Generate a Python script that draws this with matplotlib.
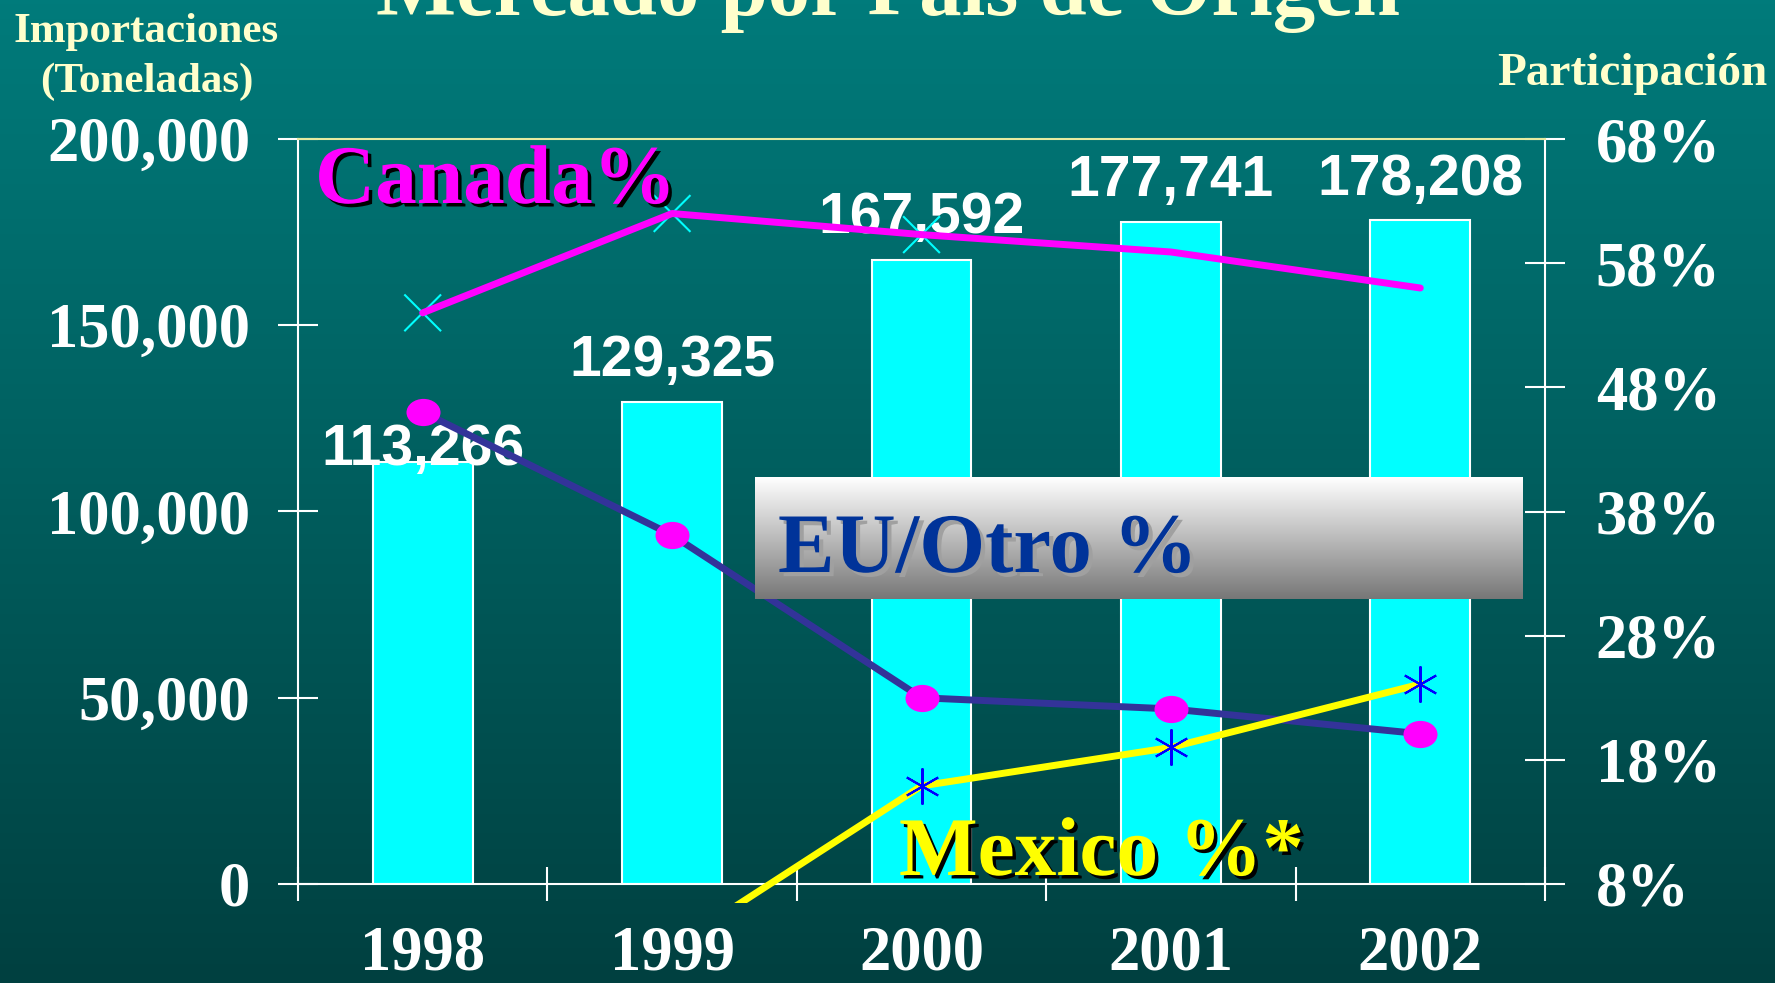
import matplotlib
matplotlib.use('Agg')
import numpy as np
import matplotlib.pyplot as plt
from matplotlib.patches import Rectangle
from matplotlib.path import Path
import matplotlib.patheffects as pe

# ---------------- data ----------------
years = ['1998', '1999', '2000', '2001', '2002']
imports = [113266, 129325, 167592, 177741, 178208]
canada_pct = [54.0, 62.0, 60.3, 58.9, 56.0]
eu_pct = [46.0, 36.1, 23.0, 22.1, 20.1]
mexico_pct = [np.nan, 2.9, 15.9, 19.0, 24.1]
left_ticks = [0, 50000, 100000, 150000, 200000]
right_ticks = [8, 18, 28, 38, 48, 58, 68]

# ---------------- style ----------------
plt.rcParams['font.family'] = ['Liberation Serif', 'DejaVu Serif']
plt.rcParams['font.weight'] = 'bold'
W, H = 1775, 983
label_offsets = [13, 34, 34, 34, 33]      # points above bar tops
canada_marker_sizes = [700, 700, 700, 16, 16]

fig = plt.figure(figsize=(W / 100, H / 100), dpi=100)

# background gradient
bg = fig.add_axes([0, 0, 1, 1], zorder=-10)
g = np.linspace(0, 1, 256)[:, None, None]
top = np.array([0, 0x7B, 0x7B]) / 255
bot = np.array([0, 0x40, 0x40]) / 255
img = top * (1 - g) + bot * g
bg.imshow(np.repeat(img, 2, axis=1), aspect='auto', extent=[0, 1, 0, 1])
bg.axis('off')

ax = fig.add_axes([298 / W, (H - 884) / H, (1545 - 298) / W, (884 - 139) / H])
ax.set_facecolor('none')
x = np.arange(len(years))
ax.bar(x, imports, width=0.4, color='#00FFFF', edgecolor='white', linewidth=1.5, zorder=2)
ax.set_xlim(-0.5, len(years) - 0.5)
ax.set_ylim(0, 200000)

ax.set_xticks(np.arange(-0.5, len(years), 1))
ax.set_xticks(x, minor=True)
ax.set_xticklabels(years, minor=True)
ax.tick_params(axis='x', which='major', direction='inout', length=24, width=1.5,
               color='white', labelbottom=False)
ax.tick_params(axis='x', which='minor', length=0, pad=30, labelsize=45, labelcolor='white')
ax.set_yticks(left_ticks)
ax.set_yticklabels([f'{v:,}' for v in left_ticks])
ax.tick_params(axis='y', direction='inout', length=29, width=1.5, color='white',
               labelcolor='white', pad=20, labelsize=45)

for i, v in enumerate(imports):
    ax.annotate(f'{v:,}', (x[i], v), xytext=(0, label_offsets[i]), textcoords='offset points',
                ha='center', va='center_baseline', color='white', fontsize=41,
                fontfamily=['Liberation Sans', 'DejaVu Sans'], fontweight='bold', zorder=5)

ax2 = ax.twinx()
ax2.set_ylim(8, 68)
ax2.set_yticks(right_ticks)
ax2.set_yticklabels([f'{v}%' for v in right_ticks])
ax2.tick_params(axis='y', direction='inout', length=29, width=1.5, color='white',
                labelcolor='white', pad=22, labelsize=45)

for s in ['top', 'right']:
    ax.spines[s].set_visible(False)
for s in ['left', 'bottom']:
    ax.spines[s].set_color('white')
    ax.spines[s].set_linewidth(1.5)
ax2.spines['left'].set_visible(False)
ax2.spines['bottom'].set_visible(False)
ax2.spines['right'].set_color('white')
ax2.spines['right'].set_linewidth(1.5)
ax2.spines['top'].set_color('#E6EBA0')
ax2.spines['top'].set_linewidth(1.5)

# Canada
ax2.scatter(x, canada_pct, s=canada_marker_sizes, marker='x', c='#00FFFF', linewidths=1.5, zorder=3)
ax2.plot(x, canada_pct, color='#FF00FF', lw=5, zorder=4, solid_capstyle='round')

# EU / Otro
circ = Path.unit_circle()
ellipse = Path(circ.vertices * np.array([1.0, 0.8]), circ.codes)
ax2.plot(x, eu_pct, color='#333399', lw=5, marker=ellipse, ms=24.5,
         mfc='#FF00FF', mec='none', zorder=5)

# Mexico
ln, = ax2.plot(x, mexico_pct, color='#FFFF00', lw=5, marker=(6, 2, 0), ms=26,
               mec='#0000FF', mew=1.5, zorder=6)
ln.set_clip_path(Rectangle((0, -0.026), 1, 1.026, transform=ax2.transAxes))

# EU/Otro box
bx = fig.add_axes([755 / W, (H - 599) / H, 768 / W, 122 / H], zorder=5)
gg = np.linspace(0, 1, 256)[:, None, None]
c1 = np.array([1.0, 1.0, 1.0])
c2 = np.array([0x77, 0x77, 0x77]) / 255
bx.imshow(np.repeat(c1 * (1 - gg) + c2 * gg, 2, axis=1), aspect='auto', extent=[0, 1, 0, 1])
bx.axis('off')

# texts
fig.text(0.5, 1 - 15 / H, 'Mercado por País de Origen', ha='center', va='baseline',
         fontsize=61, color='#FFFFCC', zorder=10)
fig.text(146 / W, 1 - 42 / H, 'Importaciones', ha='center', va='baseline',
         fontsize=31, color='#FFFFCC', zorder=10)
fig.text(147 / W, 1 - 92 / H, '(Toneladas)', ha='center', va='baseline',
         fontsize=31, color='#FFFFCC', zorder=10)
fig.text(1632 / W, 1 - 85 / H, 'Participación', ha='center', va='baseline',
         fontsize=34, color='#FFFFCC', zorder=10)

fig.text(315 / W, 1 - 203 / H, 'Canada%', ha='left', va='baseline', fontsize=60,
         color='#FF00FF', zorder=10,
         path_effects=[pe.withSimplePatchShadow(offset=(2.5, -2.5), shadow_rgbFace='black', alpha=1)])
fig.text(778 / W, 1 - 572 / H, 'EU/Otro %', ha='left', va='baseline', fontsize=61,
         color='#003399', zorder=10,
         path_effects=[pe.withSimplePatchShadow(offset=(3, -3), shadow_rgbFace='#A0A0A0', alpha=1)])
fig.text(899 / W, 1 - 875 / H, 'Mexico %*', ha='left', va='baseline', fontsize=60,
         color='#FFFF00', zorder=10,
         path_effects=[pe.withSimplePatchShadow(offset=(2.5, -2.5), shadow_rgbFace='black', alpha=1)])

fig.savefig('out.png', dpi=100)
